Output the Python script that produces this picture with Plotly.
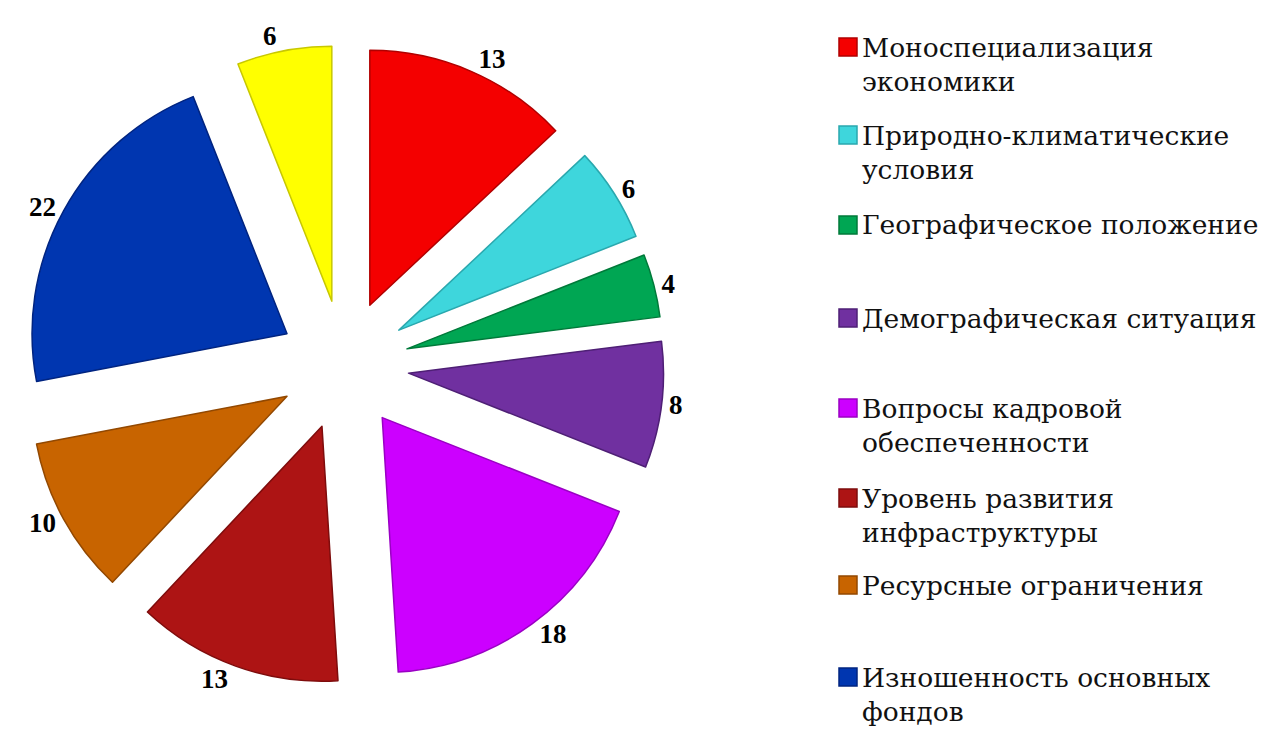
import plotly.graph_objects as go

labels = ["Моноспециализация экономики", "Природно-климатические условия",
          "Географическое положение", "Демографическая ситуация",
          "Вопросы кадровой обеспеченности", "Уровень развития инфраструктуры",
          "Ресурсные ограничения", "Изношенность основных фондов", "Прочие"]
values = [13, 6, 4, 8, 18, 13, 10, 22, 6]
colors = ["#F40000", "#3ED6DC", "#00A653", "#7030A0", "#CC00FF",
          "#AD1414", "#C86400", "#0036B0", "#FFFF00"]
edges = ["#B00000", "#2AA8AE", "#007A3A", "#4E1F75", "#9A00C4",
         "#7E0C0C", "#924800", "#002480", "#C8C800"]
legend_lines = [["Моноспециализация", "экономики"],
                ["Природно-климатические", "условия"],
                ["Географическое положение"],
                ["Демографическая ситуация"],
                ["Вопросы кадровой", "обеспеченности"],
                ["Уровень развития", "инфраструктуры"],
                ["Ресурсные ограничения"],
                ["Изношенность основных", "фондов"]]
legend_y = [47, 135, 225, 318, 408, 498, 585, 677]

W, H = 1270, 731
OFF = 8  # page body margin
LINE = 35


def px(x):
    return (x - OFF) / W


def py(y):
    return 1 - (y - OFF) / H


fig = go.Figure(go.Pie(
    labels=labels, values=values, sort=False, direction="clockwise", rotation=0,
    pull=[0.255] * len(values),
    marker=dict(colors=colors, line=dict(color=edges, width=1.5)),
    textinfo="value", textposition="outside",
    textfont=dict(family="Liberation Serif", size=27, color="black", weight="bold"),
    showlegend=False, hoverinfo="label+value",
    domain=dict(x=[px(24), px(664)], y=[py(685), py(45)]),
))

shapes = []
annotations = []
for lines, yc, col, ed in zip(legend_lines, legend_y, colors, edges):
    shapes.append(dict(type="rect", xref="paper", yref="paper",
                       x0=px(839), x1=px(857), y0=py(yc + 9), y1=py(yc - 9),
                       fillcolor=col, line=dict(color=ed, width=1.5)))
    ymid = yc + (len(lines) - 1) * LINE / 2
    annotations.append(dict(text="<br>".join(lines), xref="paper", yref="paper", x=px(860),
                            y=py(ymid), xanchor="left", yanchor="middle",
                            align="left", showarrow=False,
                            font=dict(family="DejaVu Serif", size=26.5, color="#111111")))

fig.update_layout(width=W, height=H,
                  margin=dict(l=0, r=0, t=0, b=0, pad=0, autoexpand=False),
                  paper_bgcolor="white", plot_bgcolor="white",
                  shapes=shapes, annotations=annotations)
fig.write_html("out.html")
